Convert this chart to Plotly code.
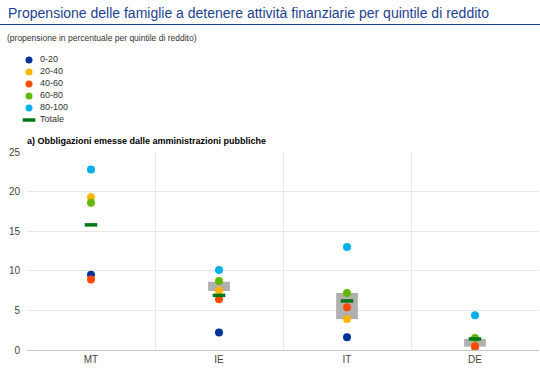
import plotly.graph_objects as go

categories = ["MT", "IE", "IT", "DE"]
series_names = ["0-20", "20-40", "40-60", "60-80", "80-100"]
q0_20 = [9.5, 2.2, 1.6, 0.4]
q20_40 = [19.3, 7.5, 3.9, 0.45]
q40_60 = [8.9, 6.4, 5.4, 0.47]
q60_80 = [18.6, 8.7, 7.2, 1.5]
q80_100 = [22.8, 10.1, 13.0, 4.4]
totale = [15.8, 6.9, 6.2, 1.4]
box_low = [None, 7.45, 3.9, 0.42]
box_high = [None, 8.62, 7.2, 1.39]

colors = ["#003299", "#ffb400", "#ff4b00", "#65b800", "#00b1ea"]
tot_color = "#007816"
FONT = "Arial, Liberation Sans, sans-serif"

W, H = 540, 368
L, R, T, B = 27, 539, 152, 350

# legend layout (pixel positions inside the legend box)
LEG_TOP, LEG_BOT, LEG_RIGHT = 50, 128, 160
legend_rows = [60, 72, 84, 96, 108, 120]
LEG_SYM_X, LEG_TEXT_X = 29, 40


def fx(xp):
    return xp / W


def fy(yp):
    return 1 - yp / H


fig = go.Figure()

fig.add_trace(go.Bar(
    x=categories,
    y=[(h - l) if h is not None else None for l, h in zip(box_low, box_high)],
    base=box_low,
    width=0.17,
    marker=dict(color="#b0b0b0", line=dict(width=0)),
    showlegend=False,
    hoverinfo="skip",
))

all_series = [q0_20, q20_40, q40_60, q60_80, q80_100]
for name, vals, c in zip(series_names, all_series, colors):
    fig.add_trace(go.Scatter(
        x=categories, y=vals, mode="markers", name=name, showlegend=False,
        marker=dict(color=c, size=8, line=dict(width=0)),
    ))

tot_marker = dict(symbol="line-ew", size=9, color=tot_color,
                  line=dict(color=tot_color, width=3.5))
fig.add_trace(go.Scatter(
    x=categories, y=totale, mode="markers", name="Totale", showlegend=False,
    marker=tot_marker,
))

# compact legend drawn on a hidden overlay axis
leg_names = series_names + ["Totale"]
for i, name in enumerate(leg_names):
    mk = dict(color=colors[i], size=7, line=dict(width=0)) if i < 5 else tot_marker
    fig.add_trace(go.Scatter(
        x=[LEG_SYM_X], y=[legend_rows[i]], mode="markers", marker=mk,
        xaxis="x2", yaxis="y2", showlegend=False, hoverinfo="skip",
    ))
fig.add_trace(go.Scatter(
    x=[LEG_TEXT_X] * len(leg_names), y=legend_rows, mode="text", text=leg_names,
    textposition="middle right",
    textfont=dict(family=FONT, size=9, color="#333333"),
    xaxis="x2", yaxis="y2", showlegend=False, hoverinfo="skip",
))

annotations = [
    dict(text="Propensione delle famiglie a detenere attività finanziarie per quintile di reddito",
         xref="paper", yref="paper", x=fx(6), y=fy(13), xanchor="left", yanchor="middle",
         showarrow=False, font=dict(family=FONT, size=14, color="#1d3f8f")),
    dict(text="(propensione in percentuale per quintile di reddito)",
         xref="paper", yref="paper", x=fx(5), y=fy(38), xanchor="left", yanchor="middle",
         showarrow=False, font=dict(family=FONT, size=8.5, color="#333333")),
    dict(text="<b>a) Obbligazioni emesse dalle amministrazioni pubbliche</b>",
         xref="paper", yref="paper", x=fx(25), y=fy(141), xanchor="left", yanchor="middle",
         showarrow=False, font=dict(family=FONT, size=9, color="#000000")),
]

shapes = [
    dict(type="line", xref="paper", yref="paper", x0=0, x1=1,
         y0=fy(24.5), y1=fy(24.5), line=dict(color="#1d3f8f", width=1)),
]

fig.update_layout(
    width=W, height=H,
    margin=dict(l=0, r=0, t=0, b=0, autoexpand=False),
    paper_bgcolor="white", plot_bgcolor="white",
    font=dict(family=FONT, size=10, color="#444444"),
    barmode="overlay",
    showlegend=False,
    annotations=annotations,
    shapes=shapes,
    xaxis=dict(
        domain=[fx(L), fx(R)],
        type="category", range=[-0.5, 3.5], tickson="boundaries",
        showgrid=True, gridcolor="#e8e8e8", gridwidth=1,
        showline=True, linecolor="#c8c8c8", linewidth=1,
        ticks="", tickfont=dict(family=FONT, size=10, color="#444444"),
        fixedrange=True, automargin=False,
    ),
    yaxis=dict(
        domain=[fy(B), fy(T)],
        range=[0, 25], dtick=5, showgrid=True, gridcolor="#e8e8e8",
        zeroline=False, showline=False, ticks="",
        ticklabelstandoff=6,
        tickfont=dict(family=FONT, size=10, color="#444444"),
        fixedrange=True, automargin=False,
    ),
    xaxis2=dict(domain=[0, fx(LEG_RIGHT)], range=[0, LEG_RIGHT], visible=False,
                anchor="y2", fixedrange=True),
    yaxis2=dict(domain=[fy(LEG_BOT), fy(LEG_TOP)], range=[LEG_BOT, LEG_TOP],
                visible=False, anchor="x2", fixedrange=True),
)

fig.write_html("out.html", config={"displayModeBar": False},
               post_script="document.body.style.margin='0';")
